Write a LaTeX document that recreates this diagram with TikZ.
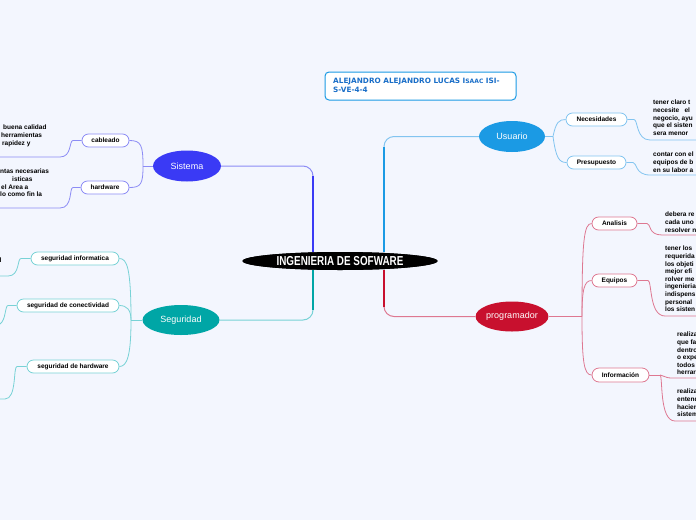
\documentclass[tikz,border=0pt]{standalone}
\usepackage{fontspec}
\setmainfont{Liberation Sans}
\newfontfamily\djv{DejaVu Sans}
\usetikzlibrary{shapes.geometric}
\definecolor{bg}{RGB}{243,246,254}
\definecolor{sisC}{RGB}{58,58,245}
\definecolor{sisL}{RGB}{140,140,245}
\definecolor{segC}{RGB}{0,166,166}
\definecolor{segL}{RGB}{120,210,214}
\definecolor{usuC}{RGB}{27,154,228}
\definecolor{usuL}{RGB}{130,196,240}
\definecolor{proC}{RGB}{200,16,46}
\definecolor{proL}{RGB}{222,120,145}
\definecolor{titC}{RGB}{25,110,200}
\begin{document}
\begin{tikzpicture}[x=1pt,y=-1pt,
  ell/.style={ellipse, inner sep=0pt, text=white, font=\fontsize{9}{10}\selectfont},
  pill/.style={draw, fill=white, rounded corners=6.5pt, inner sep=0pt, minimum height=13pt, line width=0.8pt, font=\fontsize{6.5}{7}\selectfont\bfseries},
  txt/.style={align=left, inner sep=0pt, anchor=north west, font=\fontsize{6.5}{7.6}\selectfont\bfseries},
  br/.style={line width=0.8pt},
  trunkthin/.style={line width=1pt, rounded corners=10pt},
  trunkthick/.style={line width=2.2pt, shorten >=10pt},
  corestyle/.style={ellipse, fill=black, minimum width=195pt, minimum height=18pt, inner sep=0pt, text=white, font=\fontsize{13}{14}\selectfont\bfseries},
]
\useasboundingbox (0,0) rectangle (696,520);
\fill[bg] (0,0) rectangle (696,520);
\clip (0,0) rectangle (696,520);

% ---------- main nodes ----------
\node[corestyle] (core) at (340,261) {\scalebox{0.76}[1]{INGENIERIA DE SOFWARE}};
\node[ell, fill=sisC, minimum width=68pt, minimum height=31pt] (sistema) at (187,166) {Sistema};
\node[ell, fill=segC, minimum width=77pt, minimum height=30pt] (seguridad) at (181,320) {Seguridad};
\node[ell, fill=usuC, minimum width=66pt, minimum height=31pt] (usuario) at (512,136.5) {Usuario};
\node[ell, fill=proC, minimum width=70pt, minimum height=30pt] (prog) at (512,316.5) {programador};

\node[draw=usuC, fill=white, rounded corners=4pt, line width=1pt, minimum width=191pt, minimum height=28pt, inner sep=0pt] (title) at (420.5,86) {};
\node[anchor=north west, inner sep=0pt, align=left, text=titC, font=\djv\fontsize{7.3}{9.2}\selectfont\bfseries] (titletxt) at (333,78) {ALEJANDRO ALEJANDRO LUCAS I{\fontsize{6}{9.2}\selectfont SAAC} ISI-\\S-VE-4-4};

% ---------- trunks ----------
\coordinate (tl) at (313,0);
\coordinate (tr) at (384,0);
\draw[trunkthin, sisL] (sistema.east) -| (tl |- core.north);
\draw[trunkthick, sisC] (tl |- core.north) -- (tl |- sistema.east);
\draw[trunkthin, segL] (seguridad.east) -| (tl |- core.south);
\draw[trunkthick, segC] (tl |- core.south) -- (tl |- seguridad.east);
\draw[trunkthin, usuL] (usuario.west) -| (tr |- core.north);
\draw[trunkthick, usuC] (tr |- core.north) -- (tr |- usuario.west);
\draw[trunkthin, proL] (prog.west) -| (tr |- core.south);
\draw[trunkthick, proC] (tr |- core.south) -- (tr |- prog.west);
\node[corestyle] (core2) at (core) {\scalebox{0.76}[1]{INGENIERIA DE SOFWARE}};

% ---------- Sistema ----------
\node[pill, draw=sisL, minimum width=47pt] (cab) at (105.5,140.5) {cableado};
\node[pill, draw=sisL, minimum width=48pt] (hw) at (105,187.5) {hardware};
\coordinate (sj) at (143,166);
\draw[br, sisL] (sistema.west) -- (sj);
\draw[br, sisL] (sj) .. controls (143,145) and (141,140.5) .. (cab.east);
\draw[br, sisL] (sj) .. controls (143,184) and (141,187.5) .. (hw.east);
\coordinate (cabend) at (0,157);
\coordinate (hwend) at (0,208);
\draw[br, sisL] (cab.west) -- (73,140.5) .. controls (69,140.5) and (72,157) .. (60,157) -- (cabend);
\draw[br, sisL] (hw.west) -- (73,187.5) .. controls (69,187.5) and (73,208) .. (60,208) -- (hwend);
\node[txt] (cabtxt) at (1,125) {\hspace{2pt}buena calidad\\herramientas\\\hspace{1pt}rapidez y};
\node[txt] (hwtxt) at (0,169) {ntas necesarias\\\hspace{12pt}isticas\\\hspace{1pt}el Area a\\lo como fin la};

% ---------- Seguridad ----------
\node[pill, draw=segL, minimum width=88pt] (seginf) at (75,258.5) {seguridad informatica};
\node[pill, draw=segL, minimum width=102pt] (segcon) at (68,305.5) {seguridad de conectividad};
\node[pill, draw=segL, minimum width=92pt] (seghw) at (73,366.5) {seguridad de hardware};
\coordinate (gj) at (131,320);
\draw[br, segL] (seguridad.west) -- (gj);
\draw[br, segL] (gj) .. controls (131,268) and (127,258.5) .. (seginf.east);
\draw[br, segL] (gj) .. controls (131,310) and (127,305.5) .. (segcon.east);
\draw[br, segL] (gj) .. controls (131,356) and (127,366.5) .. (seghw.east);
\coordinate (sie) at (0,276);
\coordinate (sce) at (0,324);
\coordinate (she) at (0,399);
\draw[br, segL] (seginf.west) -- (21,258.5) .. controls (17,258.5) and (20,276) .. (8,276) -- (sie);
\draw[br, segL] (segcon.west) -- (8,305.5) .. controls (5,305.5) and (6,320) .. (sce);
\draw[br, segL] (seghw.west) -- (17,366.5) .. controls (13,366.5) and (17,399) .. (5,399) -- (she);
\node[txt] (sitxt) at (-0.5,258) {l};

% ---------- Usuario ----------
\node[pill, draw=usuL, minimum width=61pt] (nec) at (596.5,119.5) {Necesidades};
\node[pill, draw=usuL, minimum width=59pt] (pre) at (596.5,162.5) {Presupuesto};
\coordinate (uj) at (553,136.5);
\draw[br, usuL] (usuario.east) -- (uj);
\draw[br, usuL] (uj) .. controls (556,122) and (559,119.5) .. (nec.west);
\draw[br, usuL] (uj) .. controls (556,158) and (559,162.5) .. (pre.west);
\coordinate (nece) at (696,140);
\coordinate (pree) at (696,175);
\draw[br, usuL] (nec.east) -- (634,119.5) .. controls (638,119.5) and (636,140) .. (650,140) -- (nece);
\draw[br, usuL] (pre.east) -- (633,162.5) .. controls (637,162.5) and (635,175) .. (650,175) -- (pree);
\node[txt] (nectxt) at (653,100) {tener claro t\\necesite \ \ el\\negocio, ayu\\que el sisten\\sera menor};
\node[txt] (pretxt) at (653,152) {contar con el\\equipos de b\\en su labor a};

% ---------- programador ----------
\node[pill, draw=proL, minimum width=45pt] (ana) at (614.5,223.5) {Analisis};
\node[pill, draw=proL, minimum width=45pt] (equ) at (614.5,280.5) {Equipos};
\node[pill, draw=proL, minimum width=57pt, minimum height=14pt, rounded corners=7pt] (inf) at (620.5,375) {Información};
\coordinate (pj) at (582,316.5);
\draw[br, proL] (prog.east) -- (pj);
\draw[br, proL] (pj) .. controls (582,240) and (584,223.5) .. (ana.west);
\draw[br, proL] (pj) .. controls (582,290) and (584,280.5) .. (equ.west);
\draw[br, proL] (pj) .. controls (582,362) and (584,375) .. (inf.west);
\coordinate (anae) at (696,235);
\coordinate (eque) at (696,316);
\coordinate (infae) at (696,378);
\coordinate (infbe) at (696,421);
\coordinate (ij) at (660,375);
\draw[br, proL] (ana.east) -- (647,223.5) .. controls (651,223.5) and (648,235) .. (662,235) -- (anae);
\draw[br, proL] (equ.east) -- (648,280.5) .. controls (652,280.5) and (649,316) .. (665,316) -- (eque);
\draw[br, proL] (inf.east) -- (ij);
\draw[br, proL] (ij) .. controls (664,375) and (664,378) .. (672,378) -- (infae);
\draw[br, proL] (ij) .. controls (663,376) and (659,421) .. (675,421) -- (infbe);
\node[txt] (anatxt) at (665,212) {debera re\\cada uno\\resolver n};
\node[txt] (equtxt) at (665,246) {tener los\\requerida\\los objeti\\mejor efi\\rolver me\\ingenieria\\indispens\\personal\\los sisten};
\node[txt] (infatxt) at (677,332) {realiza\\que fa\\dentro\\o expe\\todos\\herrar};
\node[txt] (infbtxt) at (677,389) {realiza\\entend\\hacien\\sistem};
\end{tikzpicture}
\end{document}
